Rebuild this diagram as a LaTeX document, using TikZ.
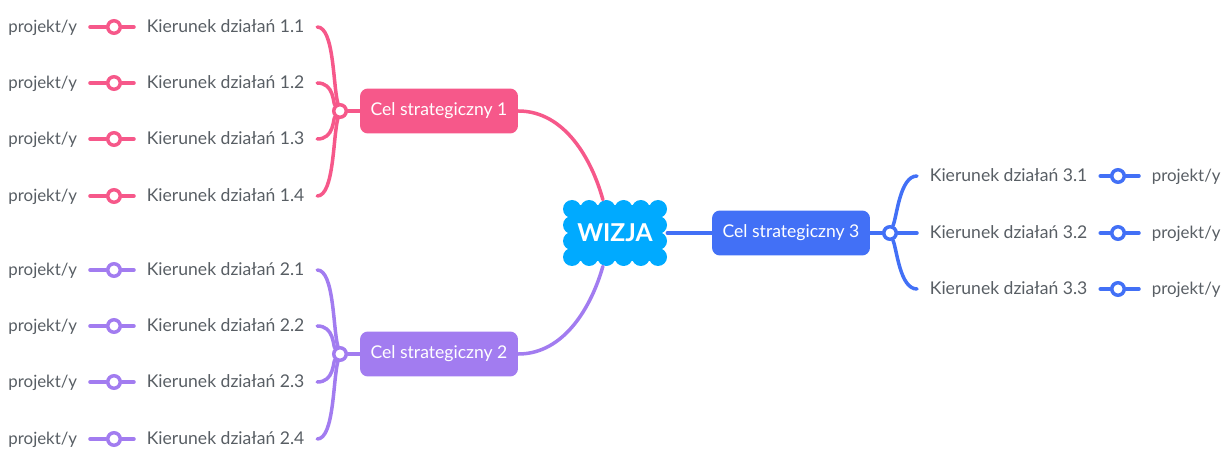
\documentclass[tikz,border=0pt]{standalone}
\usepackage{fontspec}
\setmainfont{Lato}
\usepackage{xcolor}
\usepackage{tikz}
\usetikzlibrary{calc,positioning}
\definecolor{celone}{RGB}{246,88,138}
\definecolor{celtwo}{RGB}{162,124,240}
\definecolor{celthree}{RGB}{66,112,246}
\definecolor{vision}{RGB}{0,170,255}
\definecolor{txt}{RGB}{88,94,100}

\begin{document}
\begin{tikzpicture}[x=0.02cm,y=-0.02cm,
    goal/.style={rounded corners=4.5pt,fill=#1,text=white,font=\fontsize{10}{12}\selectfont,minimum width=3.16cm,minimum height=0.9cm,inner sep=0pt},
    vis/.style={text=white,font=\fontsize{14}{16}\selectfont\bfseries,minimum width=2.08cm,minimum height=1.32cm,inner sep=0pt},
    dir/.style={text=txt,font=\fontsize{10}{12}\selectfont,text height=1.5ex,text depth=0.25ex,inner xsep=0.25cm,inner ysep=0pt},
    prj/.style={dir,font=\fontsize{9.6}{12}\selectfont},
    knob/.style={circle,draw=#1,fill=white,line width=2pt,minimum size=0.25cm,inner sep=0pt},
    ed/.style={draw=#1,line width=2pt,line cap=round}]
   \useasboundingbox (0,0) rectangle (1221,449);
   % cloud of the vision
   \fill[vision] (568,205) rectangle (662,261);
   \foreach \cx in {572,589.2,606.4,623.6,640.8,658} {\fill[vision] (\cx,209) circle (9); \fill[vision] (\cx,257) circle (9);}
   \foreach \cy in {225,241} {\fill[vision] (572,\cy) circle (9); \fill[vision] (658,\cy) circle (9);}
   \node[vis] (wizja) at (615,233) {WIZJA};
   % goals
   \node[goal=celone]   (c1) at (439,111) {Cel strategiczny 1};
   \node[goal=celtwo]   (c2) at (439,354) {Cel strategiczny 2};
   \node[goal=celthree] (c3) at (791,233) {Cel strategiczny 3};
   \node[knob=celone]   (j1) at (340,111) {};
   \node[knob=celtwo]   (j2) at (340,354) {};
   \node[knob=celthree] (j3) at (890,233) {};
   % goal 1
   \node[prj,anchor=east] (p11) at (90,27)  {projekt/y}; \node[knob=celone] (m11) at (114,27)  {}; \node[dir,anchor=west] (k11) at (134,27)  {Kierunek działań 1.1};
   \node[prj,anchor=east] (p12) at (90,83)  {projekt/y}; \node[knob=celone] (m12) at (114,83)  {}; \node[dir,anchor=west] (k12) at (134,83)  {Kierunek działań 1.2};
   \node[prj,anchor=east] (p13) at (90,139) {projekt/y}; \node[knob=celone] (m13) at (114,139) {}; \node[dir,anchor=west] (k13) at (134,139) {Kierunek działań 1.3};
   \node[prj,anchor=east] (p14) at (90,196) {projekt/y}; \node[knob=celone] (m14) at (114,196) {}; \node[dir,anchor=west] (k14) at (134,196) {Kierunek działań 1.4};
   % goal 2
   \node[prj,anchor=east] (p21) at (90,270) {projekt/y}; \node[knob=celtwo] (m21) at (114,270) {}; \node[dir,anchor=west] (k21) at (134,270) {Kierunek działań 2.1};
   \node[prj,anchor=east] (p22) at (90,326) {projekt/y}; \node[knob=celtwo] (m22) at (114,326) {}; \node[dir,anchor=west] (k22) at (134,326) {Kierunek działań 2.2};
   \node[prj,anchor=east] (p23) at (90,382) {projekt/y}; \node[knob=celtwo] (m23) at (114,382) {}; \node[dir,anchor=west] (k23) at (134,382) {Kierunek działań 2.3};
   \node[prj,anchor=east] (p24) at (90,439) {projekt/y}; \node[knob=celtwo] (m24) at (114,439) {}; \node[dir,anchor=west] (k24) at (134,439) {Kierunek działań 2.4};
   % goal 3
   \node[dir,anchor=west] (k31) at (917,176) {Kierunek działań 3.1}; \node[knob=celthree] (m31) at (1118,176) {}; \node[prj,anchor=west] (p31) at (1139,176) {projekt/y};
   \node[dir,anchor=west] (k32) at (917,233) {Kierunek działań 3.2}; \node[knob=celthree] (m32) at (1118,233) {}; \node[prj,anchor=west] (p32) at (1139,233) {projekt/y};
   \node[dir,anchor=west] (k33) at (917,289) {Kierunek działań 3.3}; \node[knob=celthree] (m33) at (1118,289) {}; \node[prj,anchor=west] (p33) at (1139,289) {projekt/y};
   % connectors
   \draw[ed=celone] (c1.east) .. controls (565,111) and (592,160) .. (wizja.110);
   \draw[ed=celtwo] (c2.east) .. controls (565,354) and (592,305) .. (wizja.250);
   \draw[ed=celthree] (wizja.east) -- (c3.west);
   \draw[ed=celone] (j1) -- (c1); \draw[ed=celtwo] (j2) -- (c2); \draw[ed=celthree] (c3) -- (j3);
   \draw[ed=celone] (k11.east) .. controls +(17,0) and (333,86) .. (j1);
   \draw[ed=celone] (k12.east) .. controls +(17,0) and (333,103) .. (j1);
   \draw[ed=celone] (k13.east) .. controls +(17,0) and (333,119) .. (j1);
   \draw[ed=celone] (k14.east) .. controls +(17,0) and (333,136) .. (j1);
   \draw[ed=celtwo] (k21.east) .. controls +(17,0) and (333,329) .. (j2);
   \draw[ed=celtwo] (k22.east) .. controls +(17,0) and (333,346) .. (j2);
   \draw[ed=celtwo] (k23.east) .. controls +(17,0) and (333,362) .. (j2);
   \draw[ed=celtwo] (k24.east) .. controls +(17,0) and (333,379) .. (j2);
   \draw[ed=celthree] (j3) .. controls (897,216) and +(-17,0) .. (k31.west);
   \draw[ed=celthree] (j3) -- (k32.west);
   \draw[ed=celthree] (j3) .. controls (897,250) and +(-17,0) .. (k33.west);
   \draw[ed=celone] (p11.east) -- (m11) -- (k11.west); \draw[ed=celone] (p12.east) -- (m12) -- (k12.west);
   \draw[ed=celone] (p13.east) -- (m13) -- (k13.west); \draw[ed=celone] (p14.east) -- (m14) -- (k14.west);
   \draw[ed=celtwo] (p21.east) -- (m21) -- (k21.west); \draw[ed=celtwo] (p22.east) -- (m22) -- (k22.west);
   \draw[ed=celtwo] (p23.east) -- (m23) -- (k23.west); \draw[ed=celtwo] (p24.east) -- (m24) -- (k24.west);
   \draw[ed=celthree] (k31.east) -- (m31) -- (p31.west); \draw[ed=celthree] (k32.east) -- (m32) -- (p32.west);
   \draw[ed=celthree] (k33.east) -- (m33) -- (p33.west);
  \end{tikzpicture}
\end{document}
